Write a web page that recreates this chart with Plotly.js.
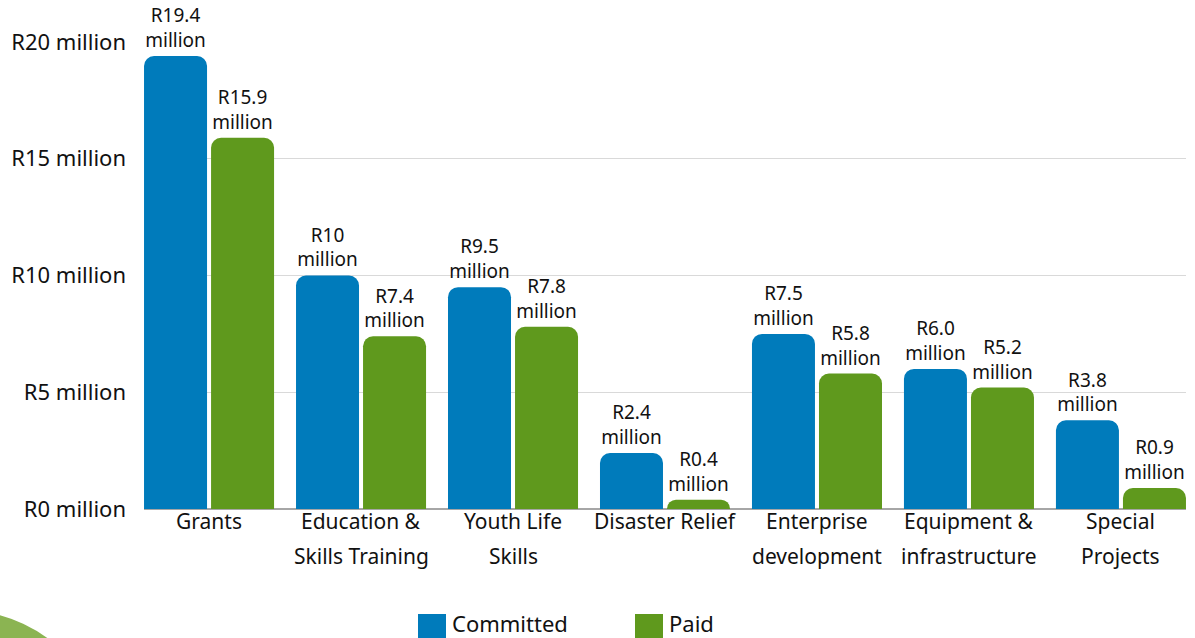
<!DOCTYPE html>
<html>
<head>
<meta charset="utf-8">
<script src="https://cdn.plot.ly/plotly-3.0.1.min.js"></script>
<style>html,body{margin:0;padding:0;background:#fff;}#chart{width:1195px;height:638px;}</style>
</head>
<body>
<div id="chart"></div>
<script>
const categories = ["Grants", "Education &<br>Skills Training", "Youth Life<br>Skills", "Disaster Relief", "Enterprise<br>development", "Equipment &<br>infrastructure", "Special<br>Projects"];
const committed = [19.4, 10, 9.5, 2.4, 7.5, 6.0, 3.8];
const paid = [15.9, 7.4, 7.8, 0.4, 5.8, 5.2, 0.9];
const yTickVals = [0, 5, 10, 15, 20];
const yTickText = ["R0 million", "R5 million", "R10 million", "R15 million", "R20 million"];
const seriesNames = ["Committed", "Paid"];

const BLUE = "#007BBB", GREEN = "#5F991D";
const FONT = "Noto Sans, Open Sans, sans-serif";
const fmt = v => "R" + (Number.isInteger(v) && v >= 10 ? String(v) : v.toFixed(1)) + "<br>million";

const idx = categories.map((_, i) => i);

const traces = [
  {type: "bar", name: seriesNames[0], x: idx, y: committed, marker: {color: BLUE},
   text: committed.map(fmt), textposition: "outside", cliponaxis: false,
   textfont: {family: FONT, size: 19, color: "#111"}, hoverinfo: "skip"},
  {type: "bar", name: seriesNames[1], x: idx, y: paid, marker: {color: GREEN},
   text: paid.map(fmt), textposition: "outside", cliponaxis: false,
   textfont: {family: FONT, size: 19, color: "#111"}, hoverinfo: "skip"}
];

// category labels as annotations (line spacing like the original)
const annotations = [];
categories.forEach((c, i) => {
  c.split("<br>").forEach((line, k) => {
    annotations.push({x: i, xref: "x", y: 0, yref: "paper", text: line, showarrow: false,
      xanchor: "center", yanchor: "middle", yshift: -12 - 35 * k,
      font: {family: FONT, size: 21, color: "#111"}});
  });
});

// custom legend
const px = v => (v - 144) / 1042;
const py = v => (509 - v) / 467;
const shapes = [
  {type: "rect", xref: "paper", yref: "paper", x0: px(418), x1: px(446), y0: py(638), y1: py(614), fillcolor: BLUE, line: {width: 0}},
  {type: "rect", xref: "paper", yref: "paper", x0: px(635), x1: px(663), y0: py(638), y1: py(614), fillcolor: GREEN, line: {width: 0}},
  {type: "path", xref: "paper", yref: "paper", fillcolor: "#8BB452", line: {width: 0}, layer: "below",
   path: `M ${px(-5)},${py(614)} Q ${px(25)},${py(621)} ${px(50)},${py(640)} L ${px(-5)},${py(640)} Z`}
];
annotations.push({xref: "paper", yref: "paper", x: px(450), y: py(623), text: seriesNames[0], showarrow: false,
  xanchor: "left", yanchor: "middle", font: {family: FONT, size: 22, color: "#111"}});
annotations.push({xref: "paper", yref: "paper", x: px(667), y: py(623), text: seriesNames[1], showarrow: false,
  xanchor: "left", yanchor: "middle", font: {family: FONT, size: 22, color: "#111"}});

const layout = {
  width: 1195, height: 638,
  margin: {l: 144, r: 9, t: 42, b: 129},
  paper_bgcolor: "#fff", plot_bgcolor: "#fff",
  barmode: "group", bargap: 0.118, bargroupgap: 0.06, barcornerradius: 10,
  showlegend: false,
  xaxis: {range: [-0.428, 6.428], showticklabels: false, showgrid: false, zeroline: false,
    showline: false, ticks: "", fixedrange: true},
  yaxis: {range: [0, 20], tickvals: yTickVals, ticktext: yTickText, showgrid: true,
    gridcolor: "#D9D9D9", gridwidth: 1, zeroline: true, zerolinecolor: "#A6A6A6", zerolinewidth: 2,
    showline: false, ticks: "", ticklabelstandoff: 17,
    tickfont: {family: FONT, size: 22, color: "#111"}, fixedrange: true},
  shapes: shapes,
  annotations: annotations
};

Plotly.newPlot("chart", traces, layout, {displayModeBar: false, staticPlot: true});
</script>
</body>
</html>
